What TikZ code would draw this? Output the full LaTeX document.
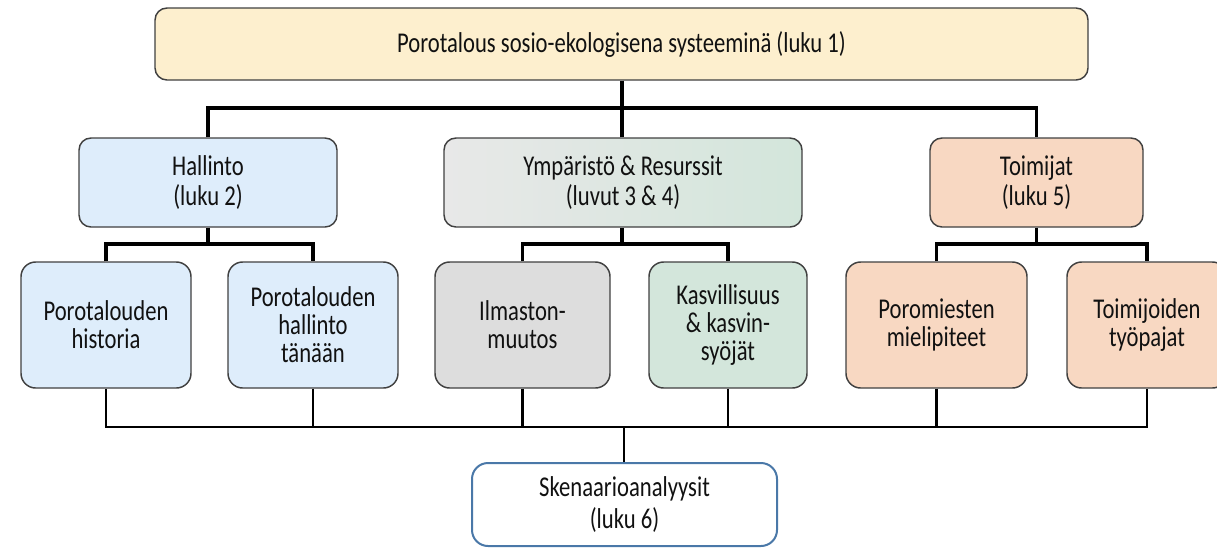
\documentclass[tikz,border=0pt]{standalone}
\usepackage{fontspec}
\setmainfont{Carlito}[FakeStretch=0.79]
\definecolor{topfill}{HTML}{FDEFCE}
\definecolor{bluefill}{HTML}{DEEDFB}
\definecolor{peachfill}{HTML}{F8D8C2}
\definecolor{grayfill}{HTML}{DDDDDD}
\definecolor{greenfill}{HTML}{D3E6DB}
\definecolor{grayleft}{HTML}{E8E8E8}
\definecolor{boxline}{HTML}{404040}
\definecolor{blueline}{HTML}{4A78A8}
\definecolor{txt}{HTML}{111111}
\tikzset{
  box/.style={draw=boxline, line width=1.1pt, rounded corners=9pt, inner sep=0pt,
    align=center, text=txt, font=\fontsize{21.5}{22.5}\selectfont},
  smallbox/.style={box, rounded corners=11pt, font=\fontsize{21.5}{21}\selectfont},
  conn/.style={line width=2.3pt, black},
  thinconn/.style={line width=2pt, black},
}
\begin{document}
\begin{tikzpicture}[x=0.75pt,y=-0.75pt]
\useasboundingbox (0,0) rectangle (1217,547);
% top
\node[box, fill=topfill, minimum width={933*0.75pt}, minimum height={72*0.75pt}] (top) at (621.5,44) {Porotalous sosio-ekologisena systeeminä (luku 1)};
% level 2
\node[box, fill=bluefill, minimum width={258*0.75pt}, minimum height={89*0.75pt}] (hal) at (208,182.5) {Hallinto\\(luku 2)};
\node[box, left color=grayleft, right color=greenfill, minimum width={358*0.75pt}, minimum height={89*0.75pt}] (ymp) at (623,182.5) {Ympäristö \& Resurssit\\(luvut 3 \& 4)};
\node[box, fill=peachfill, minimum width={213*0.75pt}, minimum height={89*0.75pt}] (toi) at (1036.5,182.5) {Toimijat\\(luku 5)};
% level 3
\node[smallbox, fill=bluefill, minimum width={170*0.75pt}, minimum height={126*0.75pt}] (a) at (106,325) {Porotalouden\\historia};
\node[smallbox, fill=bluefill, minimum width={170*0.75pt}, minimum height={126*0.75pt}] (b) at (313,325) {Porotalouden\\hallinto\\tänään};
\node[smallbox, fill=grayfill, minimum width={175*0.75pt}, minimum height={126*0.75pt}] (c) at (522.5,325) {Ilmaston-\\muutos};
\node[smallbox, fill=greenfill, minimum width={158*0.75pt}, minimum height={126*0.75pt}] (d) at (728,325) {Kasvillisuus\\\& kasvin-\\syöjät};
\node[smallbox, fill=peachfill, minimum width={181*0.75pt}, minimum height={126*0.75pt}] (e) at (936.5,325) {Poromiesten\\mielipiteet};
\node[smallbox, fill=peachfill, minimum width={160*0.75pt}, minimum height={126*0.75pt}] (f) at (1147,325) {Toimijoiden\\työpajat};
% bottom
\node[box, draw=blueline, line width=1.5pt, rounded corners=12pt, fill=white, minimum width={305*0.75pt}, minimum height={83*0.75pt}] (s) at (624.5,504.5) {Skenaarioanalyysit\\[2pt](luku 6)};
% connectors
\coordinate (bus1) at (622,108);
\draw[conn] (top.south -| bus1) -- (bus1);
\draw[conn] (hal.north) |- (bus1) -| (toi.north);
\draw[conn] (ymp.north -| bus1) -- (bus1);
\coordinate (bh) at (208,244);
\draw[conn] (hal.south) -- (bh);
\draw[conn] (a.north) |- (bh) -| (b.north);
\coordinate (by) at (622,244);
\draw[conn] (ymp.south -| by) -- (by);
\draw[conn] (c.north) |- (by) -| (d.north);
\coordinate (bt) at (1036.5,244);
\draw[conn] (toi.south) -- (bt);
\draw[conn] (e.north) |- (bt) -| (f.north);
\coordinate (bb) at (624,427);
\draw[thinconn] (a.south) |- (bb) -| (f.south);
\draw[thinconn] (b.south) -- (b.south |- bb);
\draw[thinconn] (c.south) -- (c.south |- bb);
\draw[thinconn] (d.south) -- (d.south |- bb);
\draw[thinconn] (e.south) -- (e.south |- bb);
\draw[thinconn] (bb) -- (s.north -| bb);
\end{tikzpicture}
\end{document}
